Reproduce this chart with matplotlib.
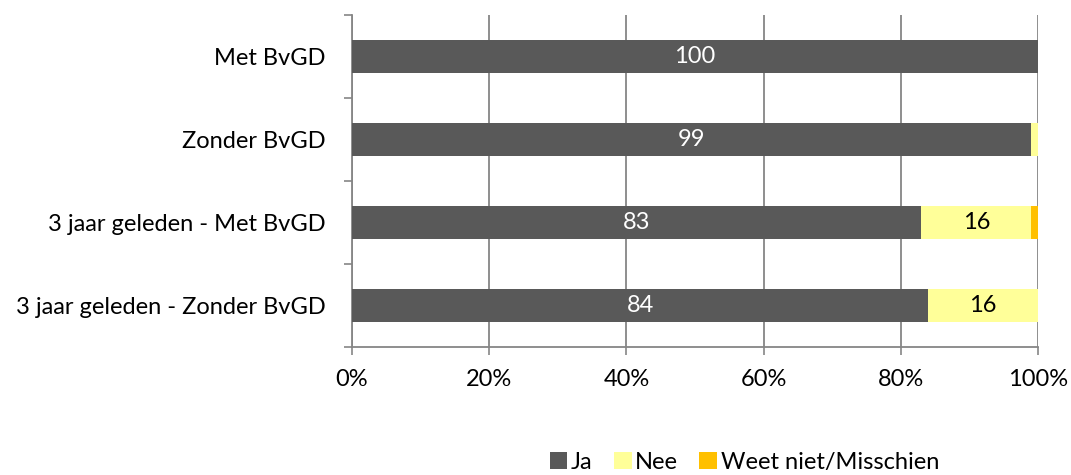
import matplotlib
matplotlib.use("Agg")
import matplotlib.pyplot as plt
from matplotlib.patches import Patch
import numpy as np

plt.rcParams['font.family'] = ['Lato', 'DejaVu Sans']

categories = ["Met BvGD", "Zonder BvGD", "3 jaar geleden - Met BvGD", "3 jaar geleden - Zonder BvGD"]
ja = [100, 99, 83, 84]
nee = [0, 1, 16, 16]
weet = [0, 0, 1, 0]
series_names = ["Ja", "Nee", "Weet niet/Misschien"]
xtick_labels = ["0%", "20%", "40%", "60%", "80%", "100%"]

colors = ["#595959", "#FFFF99", "#FFC000"]
text_colors = ["white", "black", "black"]
FS = 17

fig = plt.figure(figsize=(10.71, 4.75), dpi=100)
ax = fig.add_axes([0.3287, 0.2695, 0.6405, 0.6989])

y = np.arange(len(categories))
left = np.zeros(len(categories))
for vals, col, tcol in zip([ja, nee, weet], colors, text_colors):
    vals = np.array(vals, dtype=float)
    ax.barh(y, vals, left=left, height=0.39, color=col, zorder=3, edgecolor="none")
    for yi, l, v in zip(y, left, vals):
        if v >= 5:
            ax.text(l + v / 2, yi, f"{v:.0f}", ha="center", va="center",
                    color=tcol, fontsize=FS, zorder=4)
    left = left + vals

ax.set_xlim(0, 100)
ax.set_ylim(len(categories) - 0.5, -0.5)
ax.set_xticks(np.linspace(0, 100, 6))
ax.set_xticklabels(xtick_labels, fontsize=FS)
ax.set_yticks(y)
ax.set_yticklabels(categories, fontsize=FS)
ax.set_yticks(np.arange(-0.5, len(categories), 1), minor=True)
ax.tick_params(axis="y", which="major", length=0, pad=19)
ax.tick_params(axis="y", which="minor", length=6, color="#868686", width=1.2, direction="out")
ax.tick_params(axis="x", which="major", length=6, color="#868686", width=1.2, direction="out", pad=10)

ax.grid(axis="x", color="#868686", linewidth=1.3, zorder=0)
ax.set_axisbelow(True)
for s in ["top", "right"]:
    ax.spines[s].set_visible(False)
for s in ["left", "bottom"]:
    ax.spines[s].set_color("#868686")
    ax.spines[s].set_linewidth(1.3)

handles = [Patch(facecolor=c, edgecolor="none") for c in colors]
fig.legend(handles, series_names, loc="center", bbox_to_anchor=(0.695, 0.027),
           ncol=3, frameon=False, fontsize=FS, handlelength=0.75, handleheight=0.75,
           handletextpad=0.15, columnspacing=0.9, borderpad=0)

fig.savefig("out.png", dpi=100)
